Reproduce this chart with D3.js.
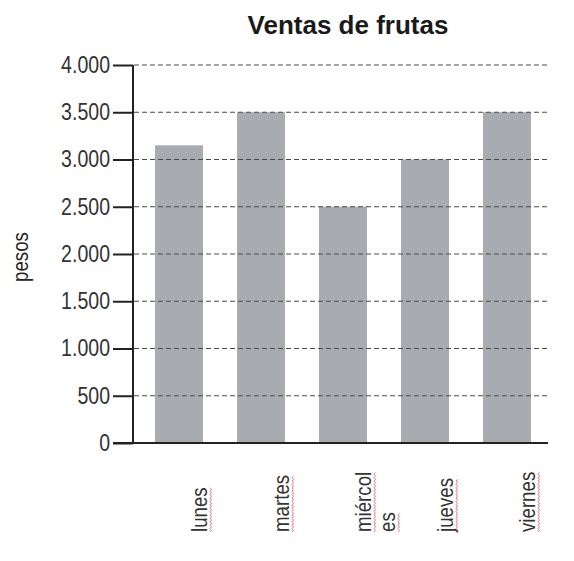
<!DOCTYPE html>
<html>
<head>
<meta charset="utf-8">
<script src="https://cdn.jsdelivr.net/npm/d3@7"></script>
<style>
    body { margin: 0; background: #fff; }
    text { font-family: "Liberation Sans", Arial, sans-serif; }
</style>
</head>
<body>
<script>
//chart data
var dias = ["lunes", "martes", "miércoles", "jueves", "viernes"];
var ventas = [3150, 3500, 2500, 3000, 3500];
var yTicks = [0, 500, 1000, 1500, 2000, 2500, 3000, 3500, 4000];
//label text as it wraps in the picture
var diaLabels = [["lunes"], ["martes"], ["miércol", "es"], ["jueves"], ["viernes"]];

window.onload = drawChart();

function drawChart(){

    var width = 574,
        height = 561;

    //horizontal squeeze to mimic a narrow font
    var squeeze = 0.85;

    var svg = d3.select("body")
        .append("svg")
        .attr("width", width)
        .attr("height", height);

    //scales
    var x = d3.scaleBand()
        .domain(dias)
        .range([138, 548])
        .paddingInner(0.415)
        .paddingOuter(0.2075);

    var y = d3.scaleLinear()
        .domain([0, 4000])
        .range([443, 65]);

    var fmt = function(d){ return d3.format(",")(d).replace(/,/g, "."); };

    //bars
    svg.selectAll(".bar")
        .data(ventas)
        .enter()
        .append("rect")
        .attr("class", "bar")
        .attr("x", function(d, i){ return x(dias[i]); })
        .attr("y", function(d){ return y(d); })
        .attr("width", x.bandwidth())
        .attr("height", function(d){ return y(0) - y(d); })
        .attr("fill", "#a8abaf");

    //dashed grid lines, drawn over the bars
    svg.selectAll(".grid")
        .data(yTicks.filter(function(d){ return d > 0; }))
        .enter()
        .append("line")
        .attr("class", "grid")
        .attr("x1", 134)
        .attr("x2", 549)
        .attr("y1", function(d){ return y(d); })
        .attr("y2", function(d){ return y(d); })
        .attr("stroke", "#4a4a4a")
        .attr("stroke-width", 1.2)
        .attr("stroke-dasharray", "5,3");

    //y axis
    var yAxis = d3.axisLeft(y)
        .tickValues(yTicks)
        .tickFormat(fmt)
        .tickSize(20)
        .tickPadding(3);

    var gy = svg.append("g")
        .attr("transform", "translate(133,0)")
        .call(yAxis);
    gy.select(".domain").remove();
    gy.selectAll(".tick line")
        .attr("stroke", "#222")
        .attr("stroke-width", 2);
    gy.selectAll(".tick text")
        .attr("x", -23 / squeeze)
        .attr("transform", "scale(" + squeeze + ",1)")
        .attr("font-size", 23)
        .attr("fill", "#333");

    //axis lines
    svg.append("line")
        .attr("x1", 133).attr("x2", 133)
        .attr("y1", y(4000)).attr("y2", y(0))
        .attr("stroke", "#222").attr("stroke-width", 2);
    svg.append("line")
        .attr("x1", 113).attr("x2", 548)
        .attr("y1", y(0)).attr("y2", y(0))
        .attr("stroke", "#222").attr("stroke-width", 2);

    //category labels, rotated
    var labels = svg.selectAll(".dia")
        .data(diaLabels)
        .enter()
        .append("g")
        .attr("class", "dia")
        .attr("transform", function(d, i){
            return "translate(" + (x(dias[i]) + x.bandwidth() + 4) + ",532) rotate(-90) scale(" + squeeze + ",1)";
        });

    labels.selectAll("text")
        .data(function(d){ return d; })
        .enter()
        .append("text")
        .attr("x", 0)
        .attr("y", function(d, j){ return j * 24; })
        .attr("font-size", 22)
        .attr("fill", "#333")
        .text(function(d){ return d; });

    //red spell check squiggle under each label
    labels.selectAll("path")
        .data(function(d){ return d; })
        .enter()
        .append("path")
        .attr("d", function(d, j){
            var len = this.parentNode.querySelectorAll("text")[j].getComputedTextLength();
            var pts = d3.range(0, len, 2).map(function(k, n){ return [k, j * 24 + 3 + (n % 2 ? 1.5 : 0)]; });
            return d3.line()(pts);
        })
        .attr("fill", "none")
        .attr("stroke", "#d9434f")
        .attr("stroke-width", 0.8);

    //axis title
    svg.append("text")
        .attr("transform", "translate(28,257) rotate(-90) scale(" + squeeze + ",1)")
        .attr("text-anchor", "middle")
        .attr("font-size", 22)
        .attr("fill", "#222")
        .text("pesos");

    //chart title
    svg.append("text")
        .attr("x", 348)
        .attr("y", 34)
        .attr("text-anchor", "middle")
        .attr("font-weight", "bold")
        .attr("font-size", 26)
        .attr("fill", "#1a1a1a")
        .text("Ventas de frutas");
};
</script>
</body>
</html>
